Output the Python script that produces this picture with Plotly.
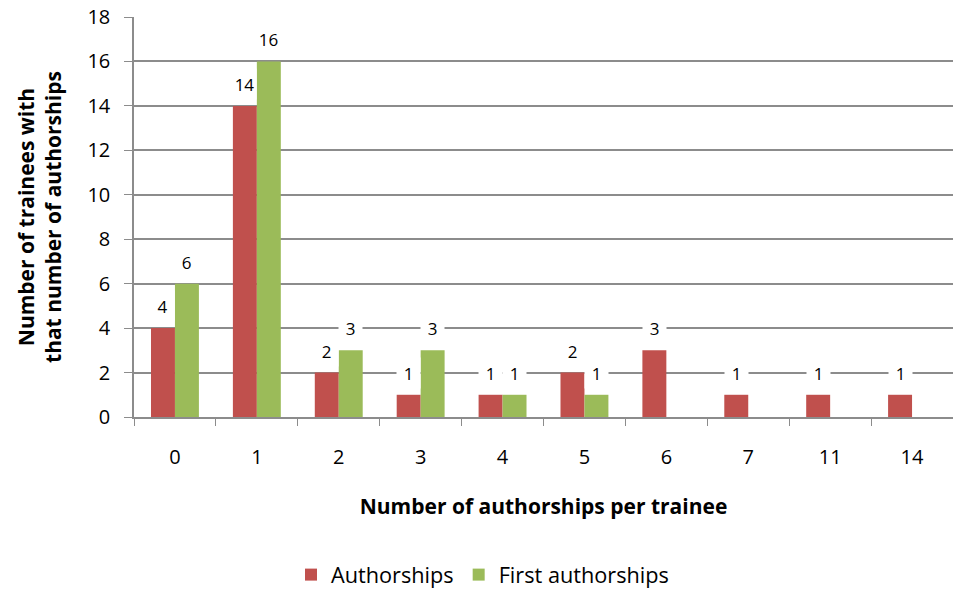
import plotly.graph_objects as go

# Data: number of trainees per authorship count
categories = ["0", "1", "2", "3", "4", "5", "6", "7", "11", "14"]
authorships = [4, 14, 2, 1, 1, 2, 3, 1, 1, 1]
first_authorships = [6, 16, 3, 3, 1, 1, None, None, None, None]

RED = "#C0504D"
GREEN = "#9BBB59"
GRID = "#8C8C8C"
FONT = "Open Sans, sans-serif"

BARGAP = 0.415
PLOT_L, PLOT_R, PLOT_T, PLOT_B = 134, 0, 17, 173
WIDTH, HEIGHT = 953, 590
step_px = (WIDTH - PLOT_L - PLOT_R) / len(categories)
bar_px = step_px * (1 - BARGAP) / 2

fig = go.Figure()
fig.add_trace(go.Bar(name="Authorships", x=categories, y=authorships,
                     marker=dict(color=RED, line=dict(width=0))))
fig.add_trace(go.Bar(name="First authorships", x=categories, y=first_authorships,
                     marker=dict(color=GREEN, line=dict(width=0))))

# Value labels above each bar, on a white box (x given as category index)
annotations = []
for series, shift in ((authorships, -bar_px / 2), (first_authorships, bar_px / 2)):
    for idx, val in enumerate(series):
        if val is None:
            continue
        annotations.append(dict(
            x=idx, y=val, xref="x", yref="y", text=str(val),
            showarrow=False, xshift=shift, yshift=22,
            font=dict(family=FONT, size=17, color="#000000"),
            bgcolor="#FFFFFF", borderpad=1, width=21, height=28,
        ))

fig.update_layout(
    width=WIDTH, height=HEIGHT,
    margin=dict(l=PLOT_L, r=PLOT_R, t=PLOT_T, b=PLOT_B),
    paper_bgcolor="#FFFFFF", plot_bgcolor="#FFFFFF",
    barmode="group", bargap=BARGAP, bargroupgap=0,
    font=dict(family=FONT, size=17, color="#000000"),
    annotations=annotations,
    legend=dict(orientation="h", xref="container", yref="container",
                x=291 / WIDTH, xanchor="left", y=1 - 575 / HEIGHT, yanchor="middle",
                font=dict(family=FONT, size=21.7), itemwidth=30,
                traceorder="normal"),
    xaxis=dict(
        type="category", range=[-0.5, len(categories) - 0.5], automargin=False,
        showgrid=False, showline=True, linecolor=GRID, linewidth=1.5,
        ticks="outside", tickson="boundaries", ticklen=7, tickcolor=GRID,
        ticklabelstandoff=21,
        tickfont=dict(family=FONT, size=20),
        title=dict(text="<b>Number of authorships per trainee</b>", standoff=31,
                   font=dict(family=FONT, size=21)),
    ),
    yaxis=dict(
        range=[0, 18], dtick=2, automargin=False,
        showgrid=True, gridcolor=GRID, gridwidth=1.5,
        showline=True, linecolor=GRID, linewidth=1.5, zeroline=False,
        ticks="outside", ticklen=8, tickcolor=GRID, ticklabelstandoff=10,
        tickfont=dict(family=FONT, size=20),
        title=dict(text="<b>Number of trainees with<br>that number of authorships</b>",
                   standoff=20, font=dict(family=FONT, size=21)),
    ),
)

fig.write_html("out.html")
